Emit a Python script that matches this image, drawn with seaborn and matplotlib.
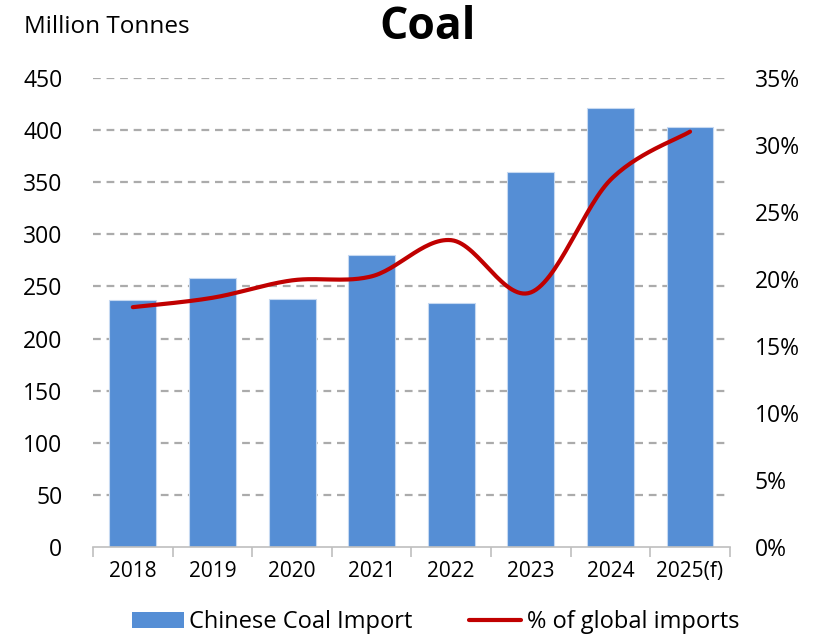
import numpy as np
import pandas as pd
import matplotlib
matplotlib.use("Agg")
import matplotlib.pyplot as plt
import seaborn as sns
from matplotlib.patches import Patch
from matplotlib.lines import Line2D

# data
years = ["2018", "2019", "2020", "2021", "2022", "2023", "2024", "2025(f)"]
imports_mt = [237, 258, 238, 280, 234, 360, 421, 403]
share_pct = [17.9, 18.6, 19.9, 20.2, 22.9, 19.0, 27.4, 31.0]

BAR_COLOR = "#558ED5"
LINE_COLOR = "#C00000"
GRID_COLOR = "#ABABAB"


def smooth_curve(x, y, steps=30):
    """Catmull-Rom style smoothing, similar to Excel's smoothed line"""
    x = np.asarray(x, dtype=float)
    y = np.asarray(y, dtype=float)
    px = np.concatenate([[x[0]], x, [x[-1]]])
    py = np.concatenate([[y[0]], y, [y[-1]]])
    xs, ys = [], []
    for i in range(1, len(px) - 2):
        t = np.linspace(0, 1, steps, endpoint=False)
        for arr, out in ((px, xs), (py, ys)):
            p0, p1, p2, p3 = arr[i - 1], arr[i], arr[i + 1], arr[i + 2]
            out.extend(0.5 * ((2 * p1) + (-p0 + p2) * t
                              + (2 * p0 - 5 * p1 + 4 * p2 - p3) * t ** 2
                              + (-p0 + 3 * p1 - 3 * p2 + p3) * t ** 3))
    xs.append(x[-1])
    ys.append(y[-1])
    return np.array(xs), np.array(ys)


sns.set_theme(style="white")
plt.rcParams['font.family'] = ['Open Sans', 'DejaVu Sans']
plt.rcParams['text.color'] = 'black'
plt.rcParams['xtick.color'] = 'black'
plt.rcParams['ytick.color'] = 'black'

fig = plt.figure(figsize=(8.19, 6.38), dpi=100)
ax = fig.add_axes([0.1136, 0.1426, 0.7775, 0.7351])

df = pd.DataFrame({"year": years, "imports": imports_mt})
sns.barplot(data=df, x="year", y="imports", color=BAR_COLOR, saturation=1,
            width=0.59, edgecolor="#C6D9F1", linewidth=0.8, ax=ax, zorder=2)

ax.set_ylim(0, 450)
ax.set_yticks(np.arange(0, 451, 50))
ax.set_xlim(-0.5, len(years) - 0.5)
for v in range(50, 451, 50):
    ax.axhline(v, color=GRID_COLOR, linestyle=(0, (3.5, 2.6)), linewidth=1.6, zorder=1)

for side in ["top", "right", "left"]:
    ax.spines[side].set_visible(False)
ax.spines["bottom"].set_color("#BFBFBF")
ax.spines["bottom"].set_linewidth(1.2)
ax.set_xlabel("")
ax.set_ylabel("")
ax.tick_params(axis="y", labelsize=16.5, length=0, pad=22)
ax.tick_params(axis="x", labelsize=15, length=0, pad=10)
# category boundary ticks below the axis
ax.set_xticks(np.arange(-0.5, len(years)), minor=True)
ax.tick_params(axis="x", which="minor", length=7, width=1.2, color="#BFBFBF", bottom=True)

ax2 = ax.twinx()
sx, sy = smooth_curve(np.arange(len(years)), share_pct)
sns.lineplot(x=sx, y=sy, color=LINE_COLOR, linewidth=3, ax=ax2, sort=False)
ax2.set_ylim(0, 35)
ax2.set_yticks(np.arange(0, 36, 5))
ax2.set_yticklabels([f"{v}%" for v in range(0, 36, 5)])
ax2.tick_params(axis="y", labelsize=16.5, length=0, pad=18)
for side in ["top", "right", "left", "bottom"]:
    ax2.spines[side].set_visible(False)
ax2.grid(False)

fig.text(0.522, 0.957, "Coal", fontsize=32, fontweight="bold", ha="center", va="center")
fig.text(0.029, 0.957, "Million Tonnes", fontsize=17.5, ha="left", va="center")

handles = [Patch(facecolor=BAR_COLOR, edgecolor="none"),
           Line2D([0], [0], color=LINE_COLOR, linewidth=3)]
fig.legend(handles, ["Chinese Coal Import", "% of global imports"], loc="center",
           bbox_to_anchor=(0.532, 0.025), ncol=2, frameon=False, fontsize=17,
           handlelength=2.2, handletextpad=0.25, columnspacing=2.4)

fig.savefig("out.png", dpi=100)
